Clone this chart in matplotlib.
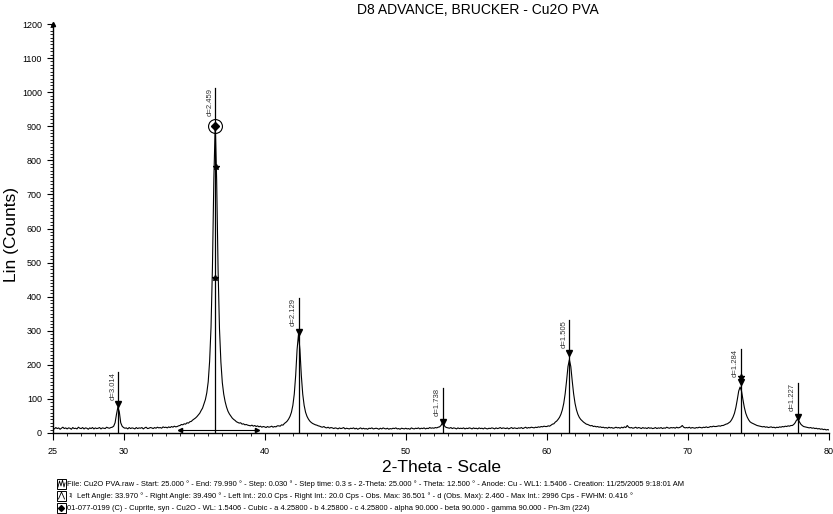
import numpy as np
import matplotlib.pyplot as plt
from matplotlib.patches import Rectangle
from matplotlib.lines import Line2D

plt.rcParams['font.family'] = ['Liberation Sans', 'DejaVu Sans']

# scan: 25.0 .. 80.0, counts every 0.1 deg
scan_start = 25.0
scan_step = 0.1
counts = [
    14, 12, 16, 13, 15, 11, 14, 17, 13, 15,   # 25
    12, 15, 14, 11, 16, 13, 14, 12, 17, 14,   # 26
    13, 16, 12, 15, 14, 11, 15, 13, 16, 12,   # 27
    15, 13, 14, 16, 12, 15, 14, 13, 17, 15,   # 28
    14, 16, 17, 20, 30, 55, 76, 62, 30, 20,   # 29
    16, 14, 15, 12, 16, 13, 15, 14, 12, 16,   # 30
    13, 15, 14, 16, 12, 15, 17, 13, 14, 16,   # 31
    15, 13, 16, 14, 17, 15, 16, 14, 18, 16,   # 32
    17, 15, 18, 16, 19, 17, 20, 18, 19, 21,   # 33
    22, 25, 24, 27, 26, 30, 29, 33, 34, 38,   # 34
    41, 44, 48, 53, 58, 66, 73, 86, 98, 118,  # 35
    150, 210, 310, 485, 745, 908, 740, 480, 305, 208,  # 36
    148, 114, 92, 76, 64, 56, 50, 44, 40, 37,  # 37
    33, 31, 29, 30, 26, 27, 24, 25, 23, 22,   # 38
    21, 23, 20, 22, 19, 21, 18, 20, 17, 19,   # 39
    18, 16, 19, 17, 18, 20, 17, 19, 18, 21,   # 40
    21, 20, 24, 23, 28, 31, 35, 41, 49, 61,   # 41
    81, 114, 169, 245, 290, 245, 169, 114, 81, 61,  # 42
    49, 41, 35, 31, 28, 26, 24, 23, 21, 20,   # 43
    18, 17, 19, 16, 15, 17, 14, 16, 15, 13,   # 44
    15, 14, 12, 15, 13, 14, 16, 12, 14, 13,   # 45
    12, 14, 13, 15, 12, 14, 11, 13, 15, 12,   # 46
    14, 12, 13, 11, 14, 13, 15, 12, 13, 14,   # 47
    13, 11, 14, 12, 15, 13, 12, 14, 11, 13,   # 48
    12, 14, 13, 15, 12, 13, 11, 14, 13, 12,   # 49
    14, 12, 13, 11, 15, 13, 12, 14, 13, 15,   # 50
    12, 14, 13, 15, 12, 14, 13, 16, 14, 15,   # 51
    14, 16, 15, 17, 18, 22, 30, 24, 18, 16,   # 52
    15, 14, 16, 13, 15, 14, 12, 15, 13, 14,   # 53
    13, 15, 12, 14, 13, 15, 14, 12, 15, 13,   # 54
    14, 12, 15, 13, 14, 12, 15, 13, 12, 14,   # 55
    13, 15, 14, 12, 15, 13, 14, 16, 13, 15,   # 56
    14, 13, 15, 12, 14, 16, 13, 15, 14, 13,   # 57
    15, 14, 16, 13, 15, 17, 14, 16, 15, 17,   # 58
    16, 15, 17, 16, 18, 17, 19, 18, 20, 19,   # 59
    19, 21, 20, 23, 26, 27, 32, 35, 40, 46,   # 60
    55, 68, 87, 115, 153, 195, 215, 195, 153, 115,  # 61
    87, 68, 55, 46, 40, 36, 32, 29, 26, 25,   # 62
    23, 21, 22, 19, 20, 18, 19, 17, 18, 16,   # 63
    17, 15, 16, 14, 17, 15, 16, 14, 15, 17,   # 64
    15, 16, 14, 17, 15, 18, 16, 22, 17, 15,   # 65
    16, 14, 15, 17, 14, 16, 15, 13, 16, 14,   # 66
    15, 13, 16, 14, 15, 13, 14, 16, 13, 15,   # 67
    14, 16, 13, 15, 14, 17, 15, 14, 16, 15,   # 68
    16, 14, 17, 15, 16, 18, 22, 17, 15, 16,   # 69
    15, 17, 14, 16, 15, 14, 16, 15, 17, 16,   # 70
    15, 17, 16, 18, 16, 17, 19, 18, 20, 19,   # 71
    19, 20, 21, 20, 22, 22, 24, 26, 27, 30,   # 72
    33, 39, 47, 58, 75, 98, 123, 135, 123, 98,  # 73
    75, 58, 47, 39, 33, 30, 28, 26, 24, 22,   # 74
    21, 20, 19, 18, 19, 17, 18, 16, 17, 18,   # 75
    16, 17, 15, 17, 16, 18, 17, 19, 18, 20,   # 76
    19, 21, 20, 22, 22, 25, 30, 38, 40, 33,   # 77
    26, 22, 19, 18, 17, 16, 15, 16, 14, 15,   # 78
    13, 14, 12, 13, 11, 12, 10, 11, 9, 10,    # 79
    9,                                        # 80
]

# peak search results (2-theta, d label, line top, marker height)
peak_pos = [29.62, 36.51, 42.42, 52.62, 61.57, 73.73, 77.77]
peak_labels = ['d=3.014', 'd=2.459', 'd=2.129', 'd=1.738', 'd=1.505', 'd=1.284', 'd=1.227']
peak_tops = [180, 1012, 396, 132, 331, 246, 146]
peak_marks = [85, 900, 296, 33, 235, 150, 47]

# area used for FWHM
area_left, area_right, area_level = 33.97, 39.49, 10

footer_lines = [
    'File: Cu2O PVA.raw - Start: 25.000 ° - End: 79.990 ° - Step: 0.030 ° - Step time: 0.3 s - '
    '2-Theta: 25.000 ° - Theta: 12.500 ° - Anode: Cu - WL1: 1.5406 - Creation: 11/25/2005 9:18:01 AM',
    'Left Angle: 33.970 ° - Right Angle: 39.490 ° - Left Int.: 20.0 Cps - Right Int.: 20.0 Cps - '
    'Obs. Max: 36.501 ° - d (Obs. Max): 2.460 - Max Int.: 2996 Cps - FWHM: 0.416 °',
    '01-077-0199 (C) - Cuprite, syn - Cu2O - WL: 1.5406 - Cubic - a 4.25800 - b 4.25800 - c 4.25800 - '
    'alpha 90.000 - beta 90.000 - gamma 90.000 - Pn-3m (224)',
]

W, H = 833, 514
fig = plt.figure(figsize=(W / 100, H / 100), dpi=100)
ax = fig.add_axes([53 / W, 81 / H, 776 / W, 409 / H])

two_theta = scan_start + scan_step * np.arange(len(counts))
ax.plot(two_theta, counts, color='black', lw=0.8)

# sticks + d labels
for x, lab, top, mk in zip(peak_pos, peak_labels, peak_tops, peak_marks):
    ax.plot([x, x], [0, top], color='black', lw=0.9)
    ax.text(x - 0.12, top, lab, rotation=90, ha='right', va='top',
            fontsize=5.5, color='#333333')
    if lab == 'd=2.459':
        ax.plot(x, mk, marker='o', ms=10, mfc='none', mec='black', mew=0.8)
        ax.plot(x, mk, marker='D', ms=4, color='black')
    else:
        ax.plot(x, mk, marker='v', ms=4, color='black')

# a few extra marks along the strongest peaks
ax.plot([36.5, 36.55, 73.73], [455, 780, 164], ls='none', marker='*', ms=4, color='black')

ax.plot([area_left, area_right], [area_level, area_level], color='black', lw=0.8)
ax.plot([area_left], [area_level], marker='<', ms=3, color='black')
ax.plot([area_right], [area_level], marker='>', ms=3, color='black')

ax.set_xlim(25, 80)
ax.set_ylim(0, 1200)
ax.set_xticks([25, 30, 40, 50, 60, 70, 80])
ax.set_xticks(np.arange(25, 81, 1), minor=True)
ax.set_yticks(np.arange(0, 1201, 100))
ax.set_yticks(np.arange(0, 1201, 10), minor=True)
ax.tick_params(which='major', direction='out', length=5, width=0.8, labelsize=6.5, pad=5)
ax.tick_params(which='minor', direction='out', length=2.5, width=0.6)
ax.tick_params(axis='y', which='major', length=4, pad=4)
ax.spines['top'].set_visible(False)
ax.spines['right'].set_visible(False)
ax.spines['left'].set_linewidth(1.0)
ax.spines['bottom'].set_linewidth(1.0)
ax.plot([25], [1200], marker='^', ms=3, color='black', clip_on=False)

fig.text(441 / W, 1 - 467 / H, '2-Theta - Scale', ha='center', va='center', fontsize=12.5)
fig.text(12 / W, 1 - 235 / H, 'Lin (Counts)', ha='center', va='center', rotation=90, fontsize=12.5)
fig.text(478 / W, 1 - 10 / H, 'D8 ADVANCE, BRUCKER - Cu2O PVA', ha='center', va='center', fontsize=10)

# footer with small legend boxes
for i, line in enumerate(footer_lines):
    yc = 1 - (484 + 12 * i) / H
    fig.patches.append(Rectangle((57 / W, yc - 5 / H), 9 / W, 10 / H, transform=fig.transFigure,
                                 fill=False, lw=0.7, ec='black'))
    x0 = 57 / W
    if i == 0:
        xs = np.array([1, 2.5, 4, 5.5, 7, 8]) / W + x0
        ys = np.array([-3, 3, -2, 4, -3, 1]) / H + yc
        fig.lines.append(Line2D(xs, ys, transform=fig.transFigure, color='black', lw=0.6))
        fig.text(67 / W, yc, line, ha='left', va='center', fontsize=5.4)
    elif i == 1:
        xs = np.array([1.5, 4.5, 7.5]) / W + x0
        ys = np.array([-3, 4, -3]) / H + yc
        fig.lines.append(Line2D(xs, ys, transform=fig.transFigure, color='black', lw=0.6))
        fig.text(69 / W, yc, '1)', ha='left', va='center', fontsize=3.5)
        fig.text(77 / W, yc, line, ha='left', va='center', fontsize=5.4)
    else:
        fig.lines.append(Line2D([x0 + 4.5 / W], [yc], transform=fig.transFigure,
                                marker='D', ms=3, color='black'))
        fig.text(67 / W, yc, line, ha='left', va='center', fontsize=5.4)

fig.savefig('out.png', dpi=100)
